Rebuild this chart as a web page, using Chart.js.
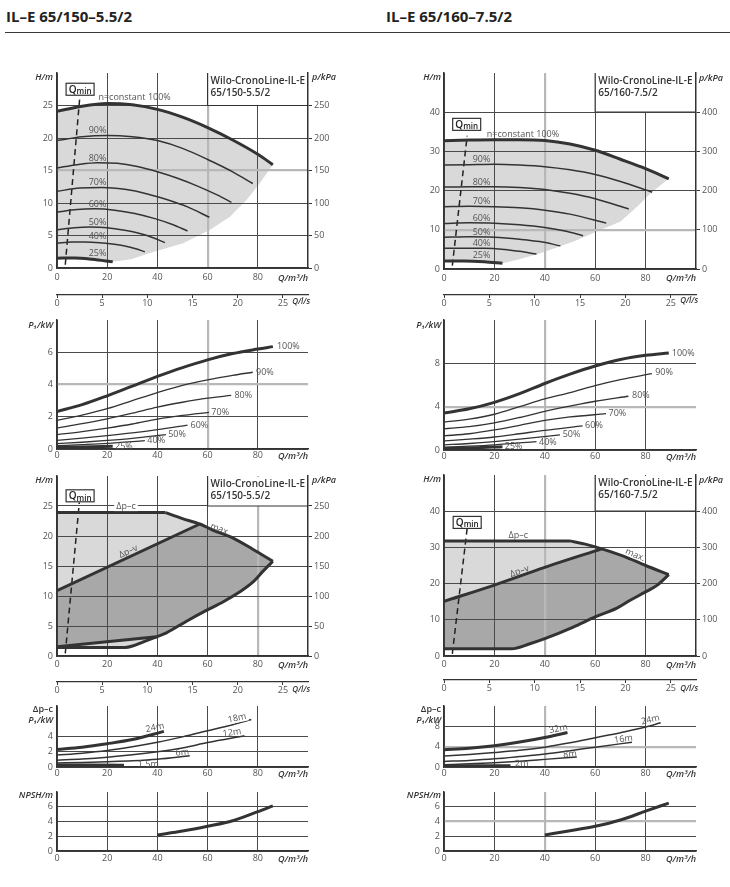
<!DOCTYPE html>
<html lang="de">
<head>
<meta charset="utf-8">
<title>IL-E 65/150-5.5/2 · IL-E 65/160-7.5/2</title>
<script src="https://cdn.jsdelivr.net/npm/chart.js@4.4.1/dist/chart.umd.min.js"></script>
<style>
html,body{margin:0;padding:0;background:#fff}
body{position:relative;width:730px;height:887px;overflow:hidden;font-family:"Open Sans",sans-serif}
.hd{position:absolute;top:9px;font-weight:700;font-size:15px;line-height:15px;color:#222;white-space:nowrap}
.rule{position:absolute;left:5px;top:32px;width:725px;border-top:1.5px solid #3a3a3a}
canvas{position:absolute;display:block}
</style>
</head>
<body>
<div class="hd" style="left:6px">IL–E 65/150–5.5/2</div>
<div class="hd" style="left:386px">IL–E 65/160–7.5/2</div>
<div class="rule"></div>
<script>
// ================= DATA =================
const qTicks   = [0, 20, 40, 60, 80, 100];
const qlsTicks = [0, 5, 10, 15, 20, 25];
const L_hTicks = [0, 5, 10, 15, 20, 25];
const L_pTicks = [0, 50, 100, 150, 200, 250];
const R_hTicks = [0, 10, 20, 30, 40];
const R_pTicks = [0, 100, 200, 300, 400];

// --- IL-E 65/150-5.5/2 : H(Q) at speeds ---
const L_H100 = [[0,24.1],[10,24.9],[20,25.3],[30,25.1],[40,24.4],[50,23.2],[60,21.6],[70,19.7],[80,17.5],[86,15.9]];
const L_H90  = [[0,19.6],[10,20.2],[20,20.4],[30,20.2],[40,19.6],[50,18.4],[60,16.7],[70,14.8],[78,13.0]];
const L_H80  = [[0,15.4],[8,15.9],[16,16.2],[24,16.1],[32,15.6],[40,14.8],[48,13.8],[56,12.6],[64,11.2],[69.5,10.1]];
const L_H70  = [[0,11.8],[9,12.3],[18,12.4],[27,12.1],[36,11.4],[44,10.5],[52,9.4],[60.7,7.8]];
const L_H60  = [[0,8.6],[8,9.0],[15,9.1],[23,8.9],[31,8.4],[39,7.6],[46,6.7],[52,5.7]];
const L_H50  = [[0,5.9],[7,6.2],[13,6.3],[20,6.2],[27,5.8],[33,5.3],[38,4.7],[43,3.9]];
const L_H40  = [[0,3.8],[6,4.0],[11,4.0],[17,3.9],[22,3.7],[27,3.4],[31,3.0],[35,2.5]];
const L_H25  = [[0,1.5],[7,1.55],[14,1.35],[22.2,0.95]];
const L_Hedge = [[86,15.9],[80.9,13.1],[75.6,10.5],[68.9,7.9],[61,5.9],[50.3,3.8],[37,2.3],[29.5,1.35],[22.2,0.95]];
const L1_Qmin = [[3.3,0.5],[9.0,25.9]];

// --- IL-E 65/160-7.5/2 : H(Q) at speeds ---
const R_H100 = [[0,32.7],[10,32.9],[20,33.0],[30,33.0],[40,32.8],[50,31.9],[60,30.3],[70,28.0],[80,25.6],[89.2,23.0]];
const R_H90  = [[0,26.5],[10,26.6],[20,26.7],[30,26.5],[40,26.1],[50,25.3],[60,24.1],[70,22.3],[82.6,19.6]];
const R_H80  = [[0,20.9],[10,21.0],[20,21.0],[30,20.8],[40,20.3],[50,19.3],[60,17.9],[73.3,15.3]];
const R_H70  = [[0,15.9],[10,16.0],[20,15.9],[30,15.6],[40,15.0],[50,14.0],[64.4,11.7]];
const R_H60  = [[0,11.6],[10,11.8],[20,11.7],[30,11.3],[40,10.6],[48,9.7],[55.2,8.5]];
const R_H50  = [[0,8.1],[10,8.2],[20,8.1],[30,7.6],[38,7.0],[46.2,5.9]];
const R_H40  = [[0,5.3],[8,5.3],[16,5.3],[24,5.0],[30,4.5],[36.7,3.8]];
const R_H25  = [[0,2.05],[8,2.05],[16,1.85],[23.2,1.45]];
const R_Hedge = [[89.2,23.0],[82.1,19.4],[76.8,16.0],[70.1,12.1],[60.8,9.6],[51.5,7.0],[38.2,4.0],[30,2.5],[23.2,1.45]];
const R1_Qmin = [[3.3,0.85],[9.2,34.0]];

// --- P1(Q) ---
const L_P100 = [[0,2.33],[10,2.75],[20,3.3],[30,3.9],[40,4.5],[50,5.05],[60,5.53],[70,5.92],[80,6.2],[86,6.35]];
const L_P90  = [[0,1.77],[10,2.1],[20,2.5],[30,3.0],[40,3.5],[50,3.95],[60,4.29],[70,4.57],[78,4.76]];
const L_P80  = [[0,1.3],[10,1.57],[20,1.87],[30,2.22],[40,2.6],[50,2.9],[60,3.15],[69.4,3.32]];
const L_P70  = [[0,0.89],[10,1.08],[20,1.3],[30,1.55],[40,1.85],[50,2.08],[60.6,2.27]];
const L_P60  = [[0,0.54],[10,0.68],[20,0.83],[30,1.0],[40,1.2],[52,1.48]];
const L_P50  = [[0,0.33],[10,0.42],[20,0.53],[30,0.66],[43.4,0.89]];
const L_P40  = [[0,0.2],[10,0.27],[20,0.35],[35,0.52]];
const L_P25  = [[0,0.12],[10,0.13],[22.2,0.17]];

const R_P100 = [[0,3.41],[10,3.8],[20,4.4],[30,5.2],[40,6.14],[50,7.0],[60,7.75],[70,8.35],[80,8.74],[89.2,8.96]];
const R_P90  = [[0,2.57],[10,2.85],[20,3.3],[30,4.0],[40,4.71],[50,5.3],[60,5.95],[70,6.5],[82.5,7.04]];
const R_P80  = [[0,1.95],[10,2.15],[20,2.5],[30,3.0],[40,3.57],[50,4.05],[60,4.5],[73.2,4.96]];
const R_P70  = [[0,1.3],[10,1.5],[20,1.85],[30,2.28],[40,2.73],[50,3.05],[64.3,3.35]];
const R_P60  = [[0,0.84],[10,1.0],[20,1.2],[30,1.5],[40,1.82],[55,2.23]];
const R_P50  = [[0,0.47],[10,0.6],[20,0.78],[30,1.0],[46,1.4]];
const R_P40  = [[0,0.25],[10,0.35],[20,0.48],[36.7,0.78]];
const R_P25  = [[0,0.16],[12,0.2],[23.2,0.31]];

// --- control mode fields (Δp-c / Δp-v) ---
const L_dpc    = [[0,23.9],[43.2,23.9]];
const L_max    = [[43.2,23.9],[50,22.9],[56.9,22.0],[62,21.0],[70,19.7],[78,17.8],[86,15.8]];
const L_min    = [[86,15.8],[82,14.1],[78,12.3],[72.7,10.65],[66.1,9.0],[59.5,7.6],[51.6,5.8],[43.6,3.86],[39.7,3.2],[34.4,2.37],[30.4,1.7],[27.1,1.4],[0,1.4]];
const L_dpv    = [[0,10.9],[56.9,22.0]];
const L_dpvMin = [[0,1.55],[39.7,3.2]];
const L3_Qmin  = [[3.3,0.44],[8.9,25.6]];

const R_dpc    = [[0,31.8],[50,31.8]];
const R_max    = [[50,31.8],[56,30.9],[62.6,29.6],[71.2,27.6],[80,25.0],[89.2,22.5]];
const R_min    = [[89.2,22.5],[84.5,19.5],[80,17.7],[73.9,15.4],[68.6,13.2],[60,10.8],[51.3,8.0],[40,4.8],[34.1,3.4],[26.8,2.0],[0,2.0]];
const R_dpv    = [[0,15.1],[20,19.6],[40,24.5],[62.6,29.6]];
const R3_Qmin  = [[3.3,0.6],[9.2,35.3]];

// --- Δp-c P1(Q) ---
const L_D24 = [[0,2.31],[10,2.6],[20,3.05],[30,3.6],[42.6,4.67]];
const L_D18 = [[0,1.56],[10,1.8],[20,2.15],[30,2.65],[40,3.24],[50,3.95],[60,4.75],[70,5.55],[77.4,6.22]];
const L_D12 = [[0,0.89],[10,1.05],[20,1.28],[30,1.6],[40,2.0],[50,2.5],[60,3.2],[74.7,4.09]];
const L_D6  = [[0,0.53],[10,0.6],[20,0.7],[30,0.82],[40,1.02],[52.9,1.47]];
const L_D15 = [[0,0.26],[26.7,0.24]];

const R_D32 = [[0,3.38],[10,3.7],[20,4.2],[30,4.9],[40,5.8],[49,6.8]];
const R_D24 = [[0,2.14],[10,2.45],[20,2.85],[30,3.3],[40,3.9],[50,4.75],[60,5.75],[70,6.75],[80,7.85],[86,8.7]];
const R_D16 = [[0,1.1],[10,1.3],[20,1.6],[30,2.05],[40,2.55],[50,3.2],[60,3.9],[74.6,4.87]];
const R_D8  = [[0,0.45],[10,0.62],[20,0.85],[30,1.15],[40,1.5],[52.7,1.95]];
const R_D2  = [[0,0.2],[26.4,0.26]];

// --- NPSH(Q) ---
const L_NPSH = [[40,2.18],[50,2.7],[60,3.35],[70,4.1],[80,5.33],[86,6.12]];
const R_NPSH = [[40,2.18],[50,2.75],[60,3.35],[70,4.2],[80,5.4],[89.2,6.5]];

// ================= STYLE / HELPERS =================
const FONT = '"Open Sans","DejaVu Sans",sans-serif';
const LINE = '#333', GRID = '#4a4a4a', GRID2 = '#b8b8b8', TC = '#555';
const FILL1 = '#d9d9d9', FILL2 = '#a8a8a8';
const TF = {family: FONT, size: 9};
const PF = '9px ' + FONT;
const AXF = 'italic 600 9px ' + FONT;
const AXS = 'italic 600 8px ' + FONT;
const BXF = '600 10px ' + FONT;
Chart.defaults.font.family = FONT;
Chart.defaults.color = TC;

const xy = arr => arr.map(p => ({x: p[0], y: p[1]}));
const curve = (arr, w) => ({data: xy(arr), borderColor: LINE, borderWidth: w, pointRadius: 0, fill: false, cubicInterpolationMode: 'monotone', order: 0});
const seg = (arr, w) => ({data: xy(arr), borderColor: LINE, borderWidth: w, pointRadius: 0, fill: false, tension: 0, order: 0});
const dash = arr => ({data: xy(arr), borderColor: '#222', borderWidth: 1.5, borderDash: [6, 4], pointRadius: 0, fill: false, tension: 0, order: 0});
const poly = (arr, color, order) => ({data: xy(arr), borderColor: 'rgba(0,0,0,0)', borderWidth: 0, backgroundColor: color, pointRadius: 0, fill: 'shape', tension: 0, order: order});
const txt = (x, y, s, o) => Object.assign({t: 'txt', x, y, s}, o || {});
const axT = (s, ref, dx, dy, align, font) => ({t: 'ax', s, ref, dx, dy, align, font});

const ANN = {};
function drawText(ctx, s, x, y, o) {
  ctx.save();
  ctx.font = o.font || PF;
  ctx.textAlign = o.align || 'left';
  ctx.textBaseline = 'middle';
  ctx.translate(x, y);
  if (o.rot) ctx.rotate(o.rot * Math.PI / 180);
  if (o.bg) {
    const w = ctx.measureText(s).width;
    const x0 = o.align === 'right' ? -w : (o.align === 'center' ? -w / 2 : 0);
    ctx.fillStyle = o.bg;
    ctx.fillRect(x0 - 2, -4.5, w + 4, 9);
  }
  ctx.fillStyle = o.color || TC;
  ctx.fillText(s, 0, 0);
  ctx.restore();
}
function drawEl(chart, e) {
  const ctx = chart.ctx, a = chart.chartArea, X = chart.scales.x, Y = chart.scales.y;
  if (e.t === 'box') {
    const x0 = X.getPixelForValue(e.x), y1 = Y.getPixelForValue(e.y);
    const yt = e.top ? a.top + 1 : a.top - 2;
    ctx.save();
    ctx.fillStyle = '#fff';
    ctx.fillRect(x0, yt, a.right - x0 - 1, y1 - yt);
    ctx.strokeStyle = LINE; ctx.lineWidth = 1.2;
    ctx.beginPath(); ctx.moveTo(x0, a.top); ctx.lineTo(x0, y1); ctx.lineTo(a.right, y1); ctx.stroke();
    ctx.restore();
    e.lines.forEach((s, i) => drawText(ctx, s, x0 + 3, a.top + 8.5 + i * 12, {font: BXF, color: '#333'}));
  } else if (e.t === 'qmin') {
    const cx = X.getPixelForValue(e.x), cy = Y.getPixelForValue(e.y);
    ctx.save();
    ctx.fillStyle = '#fff'; ctx.fillRect(cx - 14, cy - 6, 28, 12);
    ctx.strokeStyle = LINE; ctx.lineWidth = 1.2; ctx.strokeRect(cx - 14, cy - 6, 28, 12);
    ctx.fillStyle = '#222'; ctx.textBaseline = 'alphabetic'; ctx.textAlign = 'left';
    ctx.font = '600 10px ' + FONT; const wq = ctx.measureText('Q').width;
    ctx.font = '600 8px ' + FONT; const wm = ctx.measureText('min').width;
    const x0 = cx - (wq + wm) / 2;
    ctx.font = '600 10px ' + FONT; ctx.fillText('Q', x0, cy + 3.5);
    ctx.font = '600 8px ' + FONT; ctx.fillText('min', x0 + wq, cy + 5);
    ctx.restore();
  } else if (e.t === 'txt') {
    drawText(ctx, e.s, X.getPixelForValue(e.x), Y.getPixelForValue(e.y), e);
  } else if (e.t === 'ax') {
    const px = (e.ref[1] === 'l' ? a.left : a.right) + e.dx;
    const py = (e.ref[0] === 't' ? a.top : a.bottom) + e.dy;
    drawText(ctx, e.s, px, py, {align: e.align, font: e.font || AXF, color: '#333'});
  }
}
const annotPlugin = {
  id: 'annot',
  beforeDatasetsDraw(chart) { const A = ANN[chart.canvas.id]; if (A) A.under.forEach(e => drawEl(chart, e)); },
  afterDatasetsDraw(chart) { const A = ANN[chart.canvas.id]; if (A) A.over.forEach(e => drawEl(chart, e)); }
};

function makePanel(s) {
  const col = s.col === 'L' ? {cl: 0, cw: 365, L: 57, R: 57} : {cl: 385, cw: 345, L: 59, R: 34};
  const B = s.xH + (s.x2H || 0);
  const ch = s.T + (s.b - s.t) + B;
  const cv = document.createElement('canvas');
  cv.id = s.id; cv.width = col.cw; cv.height = ch;
  cv.style.left = col.cl + 'px'; cv.style.top = (s.t - s.T) + 'px';
  cv.style.width = col.cw + 'px'; cv.style.height = ch + 'px';
  document.body.appendChild(cv);
  ANN[s.id] = {under: s.under || [], over: s.over || []};
  const yT = s.top ? s.yTicks.concat([s.yMax]) : s.yTicks.slice();
  const yL = s.yLabels || s.yTicks;
  const scales = {
    x: {
      type: 'linear', min: 0, max: 100,
      afterBuildTicks: sc => { sc.ticks = qTicks.map(v => ({value: v})); },
      afterFit: sc => { sc.height = s.xH; },
      ticks: {font: TF, color: TC, padding: s.xPad, maxRotation: 0, autoSkip: false,
              callback: v => (v === 100 ? null : String(v))},
      grid: {drawTicks: false,
             color: c => (c.tick && c.tick.value === s.gx) ? GRID2 : ((c.tick && c.tick.value === 100) ? LINE : GRID),
             lineWidth: c => (c.tick && c.tick.value === s.gx) ? 2.2 : ((c.tick && c.tick.value === 100) ? 1.5 : 1)},
      border: {color: LINE, width: 1.5}
    },
    y: {
      type: 'linear', position: 'left', min: 0, max: s.yMax,
      afterBuildTicks: sc => { sc.ticks = yT.map(v => ({value: v})); },
      afterFit: sc => { sc.width = col.L; },
      ticks: {font: TF, color: TC, padding: 4, autoSkip: false,
              callback: v => (yL.indexOf(v) >= 0 ? String(v) : null)},
      grid: {drawTicks: false,
             color: c => (c.tick && c.tick.value === s.gy) ? GRID2 : ((c.tick && c.tick.value === s.yMax) ? LINE : GRID),
             lineWidth: c => (c.tick && c.tick.value === s.gy) ? 2.2 : ((c.tick && c.tick.value === s.yMax) ? 1.5 : 1)},
      border: {color: LINE, width: 1.5}
    }
  };
  if (s.x2H) {
    scales.x2 = {
      type: 'linear', position: 'bottom', min: 0, max: 100 / 3.6,
      afterBuildTicks: sc => { sc.ticks = qlsTicks.map(v => ({value: v})); },
      afterFit: sc => { sc.height = s.x2H; },
      ticks: {font: TF, color: TC, padding: 0, maxRotation: 0, autoSkip: false, callback: v => String(v)},
      grid: {drawOnChartArea: false, drawTicks: true, tickLength: 3, color: LINE, lineWidth: 1},
      border: {color: LINE, width: 1.2}
    };
  }
  if (s.y2) {
    scales.y2 = {
      type: 'linear', position: 'right', min: 0, max: s.y2.max,
      afterBuildTicks: sc => { sc.ticks = s.y2.ticks.map(v => ({value: v})); },
      afterFit: sc => { sc.width = col.R; },
      ticks: {font: TF, color: TC, padding: 2, autoSkip: false, callback: v => String(v)},
      grid: {drawOnChartArea: false, drawTicks: true, tickLength: 4, color: LINE, lineWidth: 1},
      border: {color: LINE, width: 1.5}
    };
  }
  return new Chart(cv, {
    type: 'line',
    data: {datasets: s.datasets},
    options: {
      responsive: false, maintainAspectRatio: false, animation: false, events: [],
      layout: {padding: {top: s.T, left: 0, right: s.y2 ? 0 : col.R, bottom: 0}},
      scales: scales,
      plugins: {legend: {display: false}, tooltip: {enabled: false}, filler: {drawTime: 'beforeDraw'}}
    },
    plugins: [annotPlugin]
  });
}

// ================= LEFT COLUMN : IL-E 65/150-5.5/2 =================
makePanel({
  id: 'c1L', col: 'L', t: 73, b: 268, T: 13, xH: 27, x2H: 20, xPad: 4.5,
  yMax: 30, yTicks: L_hTicks, top: false, gx: 60, gy: 15, y2: {max: 300, ticks: L_pTicks},
  datasets: [
    poly(L_H100.concat(L_Hedge, L_H25.slice().reverse()), FILL1, 2),
    curve(L_H100, 3), curve(L_H90, 1.5), curve(L_H80, 1.5), curve(L_H70, 1.5),
    curve(L_H60, 1.5), curve(L_H50, 1.5), curve(L_H40, 1.5), curve(L_H25, 3),
    dash(L1_Qmin)
  ],
  under: [{t: 'box', x: 60, y: 25, top: false, lines: ['Wilo-CronoLine-IL-E', '65/150-5.5/2']}],
  over: [
    {t: 'qmin', x: 9.2, y: 27.5},
    txt(16.5, 26.2, 'n=constant 100%'),
    txt(12.6, 21.2, '90%'), txt(12.6, 16.9, '80%'), txt(12.6, 13.2, '70%'), txt(12.6, 9.75, '60%'),
    txt(12.6, 7.0, '50%'), txt(12.6, 4.87, '40%'), txt(12.6, 2.26, '25%'),
    axT('H/m', 'tl', -4, 4, 'right'), axT('p/kPa', 'tr', 4, 4, 'left'),
    axT('Q/m³/h', 'br', 0, 10, 'right'), axT('Q/l/s', 'br', 2, 34, 'right', AXS)
  ]
});
makePanel({
  id: 'c2L', col: 'L', t: 320, b: 449, T: 15, xH: 20, xPad: 1.5,
  yMax: 8, yTicks: [0, 2, 4, 6], top: true, gx: 60, gy: 4,
  datasets: [curve(L_P100, 3), curve(L_P90, 1.3), curve(L_P80, 1.3), curve(L_P70, 1.3),
             curve(L_P60, 1.3), curve(L_P50, 1.3), curve(L_P40, 1.3), curve(L_P25, 3)],
  over: [
    txt(87.6, 6.35, '100%'), txt(79.3, 4.76, '90%'), txt(70.7, 3.32, '80%'), txt(61.5, 2.27, '70%'),
    txt(53.2, 1.48, '60%'), txt(44.3, 0.89, '50%'), txt(36, 0.52, '40%'), txt(23.1, 0.17, '25%'),
    axT('P₁/kW', 'tl', -4, 5, 'right'), axT('Q/m³/h', 'br', 0, 7, 'right')
  ]
});
makePanel({
  id: 'c3L', col: 'L', t: 476, b: 656, T: 15, xH: 26, x2H: 20, xPad: 3.5,
  yMax: 30, yTicks: L_hTicks, top: true, gx: 80, gy: null, y2: {max: 300, ticks: L_pTicks},
  datasets: [
    poly(L_dpv.concat(L_max.filter(p => p[0] > L_dpv[L_dpv.length - 1][0]),
                      L_min.filter(p => p[0] >= L_dpvMin[L_dpvMin.length - 1][0]),
                      L_dpvMin.slice().reverse()), FILL2, 1),
    poly(L_dpc.concat(L_max, L_min), FILL1, 2),
    seg(L_dpc, 3), curve(L_max, 3), curve(L_min.slice().reverse(), 3),
    seg(L_dpv, 3), seg(L_dpvMin, 3), dash(L3_Qmin)
  ],
  under: [{t: 'box', x: 60, y: 25, top: true, lines: ['Wilo-CronoLine-IL-E', '65/150-5.5/2']}],
  over: [
    {t: 'qmin', x: 9.2, y: 26.7},
    txt(27.5, 24.9, 'Δp–c', {align: 'center', bg: '#fff'}),
    txt(28.4, 17.4, 'Δp–v', {align: 'center', rot: -25}),
    txt(65, 21.1, 'max.', {align: 'center', rot: 21}),
    axT('H/m', 'tl', -4, 4, 'right'), axT('p/kPa', 'tr', 4, 4, 'left'),
    axT('Q/m³/h', 'br', 0, 9, 'right'), axT('Q/l/s', 'br', 2, 34, 'right', AXS)
  ]
});
makePanel({
  id: 'c4L', col: 'L', t: 706, b: 767, T: 12, xH: 16, xPad: 1.5,
  yMax: 8, yTicks: [0, 2, 4, 6], yLabels: [0, 2, 4], top: true, gx: null, gy: null,
  datasets: [curve(L_D24, 3), curve(L_D18, 1.5), curve(L_D12, 1.5), curve(L_D6, 1.5), curve(L_D15, 3)],
  over: [
    txt(39, 5.15, '24m', {align: 'center', rot: -12}),
    txt(71.7, 6.4, '18m', {align: 'center', rot: -12, bg: '#fff'}),
    txt(69.7, 4.5, '12m', {align: 'center', rot: -8}),
    txt(49.9, 1.9, '6m', {align: 'center', rot: -6}),
    txt(36.4, 0.4, '1.5m', {align: 'center'}),
    axT('Δp–c', 'tl', -4, 3, 'right', '600 9px ' + FONT), axT('P₁/kW', 'tl', -4, 14, 'right'),
    axT('Q/m³/h', 'br', 0, 7, 'right')
  ]
});
makePanel({
  id: 'c5L', col: 'L', t: 792, b: 851, T: 12, xH: 18, xPad: 2.5,
  yMax: 8, yTicks: [0, 2, 4, 6], top: true, gx: null, gy: null,
  datasets: [curve(L_NPSH, 3)],
  over: [axT('NPSH/m', 'tl', -4, 3, 'right'), axT('Q/m³/h', 'br', 0, 8, 'right')]
});

// ================= RIGHT COLUMN : IL-E 65/160-7.5/2 =================
makePanel({
  id: 'c1R', col: 'R', t: 73, b: 269, T: 13, xH: 26, x2H: 21, xPad: 4.5,
  yMax: 50, yTicks: R_hTicks, top: false, gx: 40, gy: 10, y2: {max: 500, ticks: R_pTicks},
  datasets: [
    poly(R_H100.concat(R_Hedge, R_H25.slice().reverse()), FILL1, 2),
    curve(R_H100, 3), curve(R_H90, 1.5), curve(R_H80, 1.5), curve(R_H70, 1.5),
    curve(R_H60, 1.5), curve(R_H50, 1.5), curve(R_H40, 1.5), curve(R_H25, 3),
    dash(R1_Qmin)
  ],
  under: [{t: 'box', x: 60, y: 40, top: false, lines: ['Wilo-CronoLine-IL-E', '65/160-7.5/2']}],
  over: [
    {t: 'qmin', x: 9.0, y: 36.9},
    txt(17.0, 34.3, 'n=constant 100%'),
    txt(11.4, 27.9, '90%'), txt(11.4, 22.1, '80%'), txt(11.4, 17.3, '70%'), txt(11.4, 13.0, '60%'),
    txt(11.4, 9.45, '50%'), txt(11.4, 6.55, '40%'), txt(11.4, 3.4, '25%'),
    axT('H/m', 'tl', -3, 4, 'right'), axT('p/kPa', 'tr', 3, 5, 'left'),
    axT('Q/m³/h', 'br', 0, 9, 'right'), axT('Q/l/s', 'br', 2, 32, 'right', AXS)
  ]
});
makePanel({
  id: 'c2R', col: 'R', t: 320, b: 450, T: 15, xH: 20, xPad: 1.5,
  yMax: 12, yTicks: [0, 4, 8], top: true, gx: 40, gy: 4,
  datasets: [curve(R_P100, 3), curve(R_P90, 1.3), curve(R_P80, 1.3), curve(R_P70, 1.3),
             curve(R_P60, 1.3), curve(R_P50, 1.3), curve(R_P40, 1.3), curve(R_P25, 3)],
  over: [
    txt(90.4, 8.9, '100%'), txt(83.8, 7.13, '90%'), txt(74.6, 5.02, '80%'), txt(65.3, 3.35, '70%'),
    txt(56, 2.23, '60%'), txt(47.1, 1.4, '50%'), txt(37.7, 0.71, '40%'), txt(24.1, 0.31, '25%'),
    axT('P₁/kW', 'tl', -3, 5, 'right'), axT('Q/m³/h', 'br', 0, 7, 'right')
  ]
});
makePanel({
  id: 'c3R', col: 'R', t: 475, b: 656, T: 15, xH: 24, x2H: 22, xPad: 3.5,
  yMax: 50, yTicks: R_hTicks, top: true, gx: 40, gy: null, y2: {max: 500, ticks: R_pTicks},
  datasets: [
    poly(R_dpv.concat(R_max.filter(p => p[0] > R_dpv[R_dpv.length - 1][0]), R_min), FILL2, 1),
    poly(R_dpc.concat(R_max, R_min), FILL1, 2),
    seg(R_dpc, 3), curve(R_max, 3), curve(R_min.slice().reverse(), 3),
    curve(R_dpv, 3), dash(R3_Qmin)
  ],
  under: [{t: 'box', x: 60, y: 40, top: true, lines: ['Wilo-CronoLine-IL-E', '65/160-7.5/2']}],
  over: [
    {t: 'qmin', x: 9.2, y: 36.9},
    txt(29.5, 33.4, 'Δp–c', {align: 'center'}),
    txt(30, 23.4, 'Δp–v', {align: 'center', rot: -19}),
    txt(75.9, 27.9, 'max.', {align: 'center', rot: 23}),
    axT('H/m', 'tl', -3, 4, 'right'), axT('p/kPa', 'tr', 3, 5, 'left'),
    axT('Q/m³/h', 'br', 0, 9, 'right'), axT('Q/l/s', 'br', 2, 33, 'right', AXS)
  ]
});
makePanel({
  id: 'c4R', col: 'R', t: 706, b: 767, T: 12, xH: 16, xPad: 1.5,
  yMax: 12, yTicks: [0, 4, 8], top: true, gx: 40, gy: 4,
  datasets: [curve(R_D32, 3), curve(R_D24, 1.5), curve(R_D16, 1.5), curve(R_D8, 1.5), curve(R_D2, 3)],
  over: [
    txt(45.4, 7.5, '32m', {align: 'center', rot: -12}),
    txt(81.9, 9.3, '24m', {align: 'center', rot: -14}),
    txt(71.2, 5.5, '16m', {align: 'center', rot: -8}),
    txt(50, 2.5, '8m', {align: 'center', rot: -6}),
    txt(30.8, 0.65, '2m', {align: 'center', rot: -3}),
    axT('Δp–c', 'tl', -3, 3, 'right', '600 9px ' + FONT), axT('P₁/kW', 'tl', -3, 14, 'right'),
    axT('Q/m³/h', 'br', 0, 7, 'right')
  ]
});
makePanel({
  id: 'c5R', col: 'R', t: 792, b: 851, T: 12, xH: 18, xPad: 2.5,
  yMax: 8, yTicks: [0, 2, 4, 6], top: true, gx: 40, gy: 4,
  datasets: [curve(R_NPSH, 3)],
  over: [axT('NPSH/m', 'tl', -3, 3, 'right'), axT('Q/m³/h', 'br', 0, 8, 'right')]
});
</script>
</body>
</html>
